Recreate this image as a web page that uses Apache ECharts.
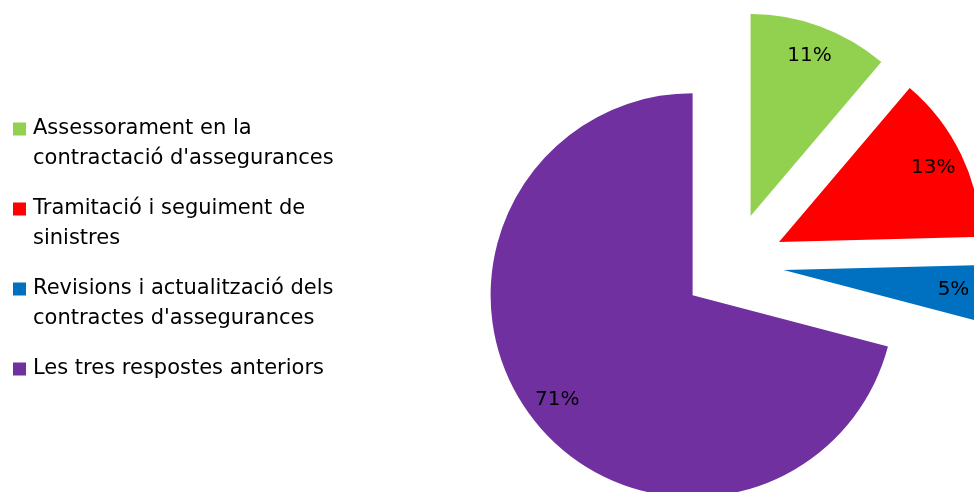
<!DOCTYPE html>
<html>
<head>
<meta charset="utf-8">
<script src="https://cdn.jsdelivr.net/npm/echarts@6/dist/echarts.min.js"></script>
<style>
html,body{margin:0;padding:0;background:#fff;}
#chart{width:974px;height:492px;}
</style>
</head>
<body>
<div id="chart"></div>
<script>
const categories = [
  "Assessorament en la\ncontractació d'assegurances",
  "Tramitació i seguiment de\nsinistres",
  "Revisions i actualització dels\ncontractes d'assegurances",
  "Les tres respostes anteriors"
];
const shares = [11.2, 13.4, 4.5, 70.9];
const colors = ['#92D050', '#FF0000', '#0070C0', '#7030A0'];

const FONT = 'DejaVu Sans';
const center = [733, 264];
const R = 202;
const offset = 51;

function makeData(transparent) {
  return categories.map((c, i) => ({
    name: c,
    value: shares[i],
    selected: true,
    itemStyle: { color: transparent ? 'rgba(0,0,0,0)' : colors[i] }
  }));
}

const chart = echarts.init(document.getElementById('chart'), null, { renderer: 'canvas' });
chart.setOption({
  animation: false,
  color: colors,
  legend: {
    orient: 'vertical',
    left: 13,
    top: 84,
    padding: 0,
    itemGap: -10,
    itemWidth: 13,
    itemHeight: 13,
    icon: 'rect',
    selectedMode: false,
    data: categories,
    formatter: function (name) {
      return name.indexOf('\n') >= 0 ? ' \n' + name : ' \n' + name + '\n ';
    },
    textStyle: {
      fontFamily: FONT,
      fontSize: 21,
      lineHeight: 30,
      color: '#000',
      padding: [0, 0, 0, 2]
    }
  },
  series: [
    {
      type: 'pie',
      center: center,
      radius: [0, R],
      startAngle: 90,
      clockwise: true,
      selectedMode: 'multiple',
      selectedOffset: offset,
      avoidLabelOverlap: false,
      label: { show: false },
      labelLine: { show: false },
      emphasis: { disabled: true },
      select: { itemStyle: { borderWidth: 0 } },
      itemStyle: { borderWidth: 0 },
      data: makeData(false)
    },
    {
      type: 'pie',
      center: center,
      radius: [134, R],
      startAngle: 90,
      clockwise: true,
      silent: true,
      selectedMode: 'multiple',
      selectedOffset: offset,
      percentPrecision: 0,
      avoidLabelOverlap: false,
      label: {
        show: true,
        position: 'inside',
        formatter: '{d}%',
        fontFamily: FONT,
        fontSize: 20,
        color: '#000'
      },
      labelLine: { show: false },
      emphasis: { disabled: true },
      select: { itemStyle: { borderWidth: 0, color: 'rgba(0,0,0,0)' } },
      itemStyle: { borderWidth: 0 },
      data: makeData(true)
    }
  ]
});
</script>
</body>
</html>
